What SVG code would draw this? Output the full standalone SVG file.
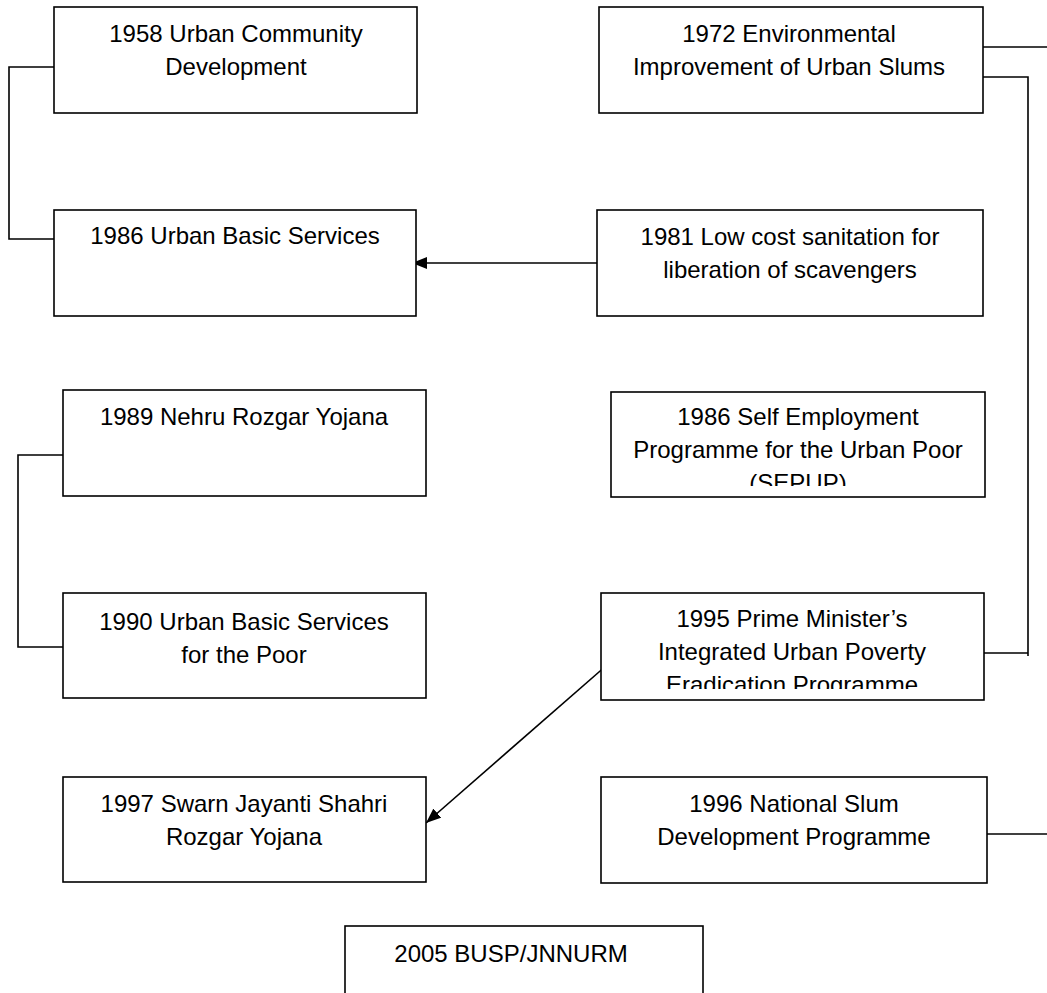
<svg xmlns="http://www.w3.org/2000/svg" width="1047" height="993" viewBox="0 0 1047 993">
<style>
.box{fill:#fff;stroke:#000;stroke-width:1.6}
.t{font-family:"Liberation Sans",Arial,sans-serif;font-size:24px;fill:#000;text-anchor:middle}
.c{fill:none;stroke:#000;stroke-width:1.6}
</style>
<defs>
<marker id="ah2" viewBox="0 0 15 12" refX="15" refY="6" markerWidth="15" markerHeight="12" markerUnits="userSpaceOnUse" orient="auto">
<path d="M0,0 L15,6 L0,12 z" fill="#000"/>
</marker>
<clipPath id="clipSepup"><rect x="611" y="392" width="374" height="94"/></clipPath>
<clipPath id="clipPmi"><rect x="601" y="593" width="383" height="96"/></clipPath>
</defs>
<rect width="1047" height="993" fill="#fff"/>
<g id="connectors">
<path class="c" d="M54,67 H9 V239 H54"/>
<path class="c" d="M63,455 H18 V647 H63"/>
<path class="c" d="M983,47 H1047"/>
<path class="c" d="M983,77 H1028 V656 M1028,653 H984"/>
<path class="c" d="M987,834 H1047"/>
<path class="c" d="M597,263 H412" marker-end="url(#ah2)"/>
<path class="c" d="M607,665 L426,823" marker-end="url(#ah2)"/>
</g>
<g id="n1958">
<rect class="box" x="54" y="7" width="363" height="106"/>
<text class="t" x="236" y="42">1958 Urban Community</text>
<text class="t" x="236" y="75">Development</text>
</g>
<g id="n1972">
<rect class="box" x="599" y="7" width="384" height="106"/>
<text class="t" x="789" y="42">1972 Environmental</text>
<text class="t" x="789" y="75">Improvement of Urban Slums</text>
</g>
<g id="n1986ubs">
<rect class="box" x="54" y="210" width="362" height="106"/>
<text class="t" x="235" y="244">1986 Urban Basic Services</text>
</g>
<g id="n1981">
<rect class="box" x="597" y="210" width="386" height="106"/>
<text class="t" x="790" y="245">1981 Low cost sanitation for</text>
<text class="t" x="790" y="278">liberation of scavengers</text>
</g>
<g id="n1989">
<rect class="box" x="63" y="390" width="363" height="106"/>
<text class="t" x="244" y="425">1989 Nehru Rozgar Yojana</text>
</g>
<g id="n1986sepup">
<rect class="box" x="611" y="392" width="374" height="105"/>
<g clip-path="url(#clipSepup)">
<text class="t" x="798" y="425">1986 Self Employment</text>
<text class="t" x="798" y="458">Programme for the Urban Poor</text>
<text class="t" x="798" y="491">(SEPUP)</text>
</g>
</g>
<g id="n1990">
<rect class="box" x="63" y="593" width="363" height="105"/>
<text class="t" x="244" y="630">1990 Urban Basic Services</text>
<text class="t" x="244" y="663">for the Poor</text>
</g>
<g id="n1995">
<rect class="box" x="601" y="593" width="383" height="107"/>
<g clip-path="url(#clipPmi)">
<text class="t" x="792" y="627">1995 Prime Minister’s</text>
<text class="t" x="792" y="660">Integrated Urban Poverty</text>
<text class="t" x="792" y="693">Eradication Programme</text>
</g>
</g>
<g id="n1997">
<rect class="box" x="63" y="777" width="363" height="105"/>
<text class="t" x="244" y="812">1997 Swarn Jayanti Shahri</text>
<text class="t" x="244" y="845">Rozgar Yojana</text>
</g>
<g id="n1996">
<rect class="box" x="601" y="777" width="386" height="106"/>
<text class="t" x="794" y="812">1996 National Slum</text>
<text class="t" x="794" y="845">Development Programme</text>
</g>
<g id="n2005">
<rect class="box" x="345" y="926" width="358" height="80"/>
<text class="t" x="511" y="962">2005 BUSP/JNNURM</text>
</g>
</svg>
